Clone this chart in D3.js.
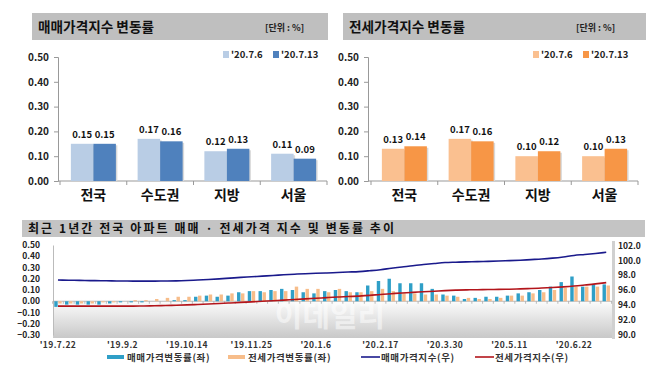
<!DOCTYPE html>
<html><head><meta charset="utf-8">
<script src="https://cdn.jsdelivr.net/npm/d3@7"></script>
<style>
html,body{margin:0;padding:0;background:#fff;}
svg{display:block;font-family:"Noto Sans CJK KR","Noto Sans",sans-serif;font-weight:bold;}
</style></head>
<body><svg id="c" width="658" height="366"></svg>
<script>
// ---------- data ----------
const cats = ['전국','수도권','지방','서울'];
const seriesLabels = ["'20.7.6","'20.7.13"];
const saleJul6  = [0.15,0.17,0.12,0.11];
const saleJul13 = [0.15,0.16,0.13,0.09];
const jeonseJul6  = [0.13,0.17,0.10,0.10];
const jeonseJul13 = [0.14,0.16,0.12,0.13];
const topTicks = [0,0.1,0.2,0.3,0.4,0.5];

const weekDates = ['19.7.22','19.7.29','19.8.5','19.8.12','19.8.19','19.8.26','19.9.2','19.9.9','19.9.16','19.9.23','19.9.30','19.10.7','19.10.14','19.10.21','19.10.28','19.11.4','19.11.11','19.11.18','19.11.25','19.12.2','19.12.9','19.12.16','19.12.23','19.12.30','20.1.6','20.1.13','20.1.20','20.1.27','20.2.3','20.2.10','20.2.17','20.2.24','20.3.2','20.3.9','20.3.16','20.3.23','20.3.30','20.4.6','20.4.13','20.4.20','20.4.27','20.5.4','20.5.11','20.5.18','20.5.25','20.6.1','20.6.8','20.6.15','20.6.22','20.6.29','20.7.6','20.7.13'];
const saleChange = [-0.05,-0.03,-0.03,-0.03,-0.03,-0.02,-0.01,-0.01,-0.01,0.00,0.00,0.01,0.01,
  0.04,0.05,0.04,0.05,0.08,0.09,0.09,0.10,0.11,0.10,0.08,0.07,0.09,
  0.10,0.09,0.08,0.14,0.18,0.20,0.16,0.16,0.16,0.11,0.06,0.05,0.02,
  0.03,0.04,0.04,0.05,0.07,0.08,0.10,0.13,0.17,0.22,0.13,0.15,0.15];
const jeonseChange = [-0.02,-0.02,-0.02,-0.02,-0.01,-0.01,0.00,0.01,0.01,0.02,0.03,0.04,0.04,
  0.05,0.06,0.06,0.07,0.07,0.09,0.08,0.09,0.09,0.13,0.11,0.11,0.08,
  0.11,0.08,0.08,0.09,0.11,0.09,0.07,0.07,0.06,0.06,0.05,0.04,0.03,
  0.02,0.02,0.03,0.05,0.05,0.07,0.08,0.10,0.12,0.13,0.13,0.13,0.14];
const saleIndex = [97.35,97.32,97.30,97.27,97.25,97.23,97.21,97.20,97.20,97.20,97.21,97.23,97.28,
  97.35,97.42,97.50,97.60,97.70,97.78,97.87,97.95,98.05,98.13,98.20,98.25,98.30,
  98.36,98.42,98.48,98.60,98.74,98.93,99.10,99.28,99.43,99.57,99.70,99.75,99.79,
  99.82,99.86,99.90,99.96,100.02,100.10,100.18,100.30,100.46,100.66,100.79,100.93,101.08];
const jeonseIndex = [93.83,93.83,93.83,93.82,93.82,93.82,93.82,93.83,93.85,93.88,93.91,93.95,93.99,
  94.05,94.12,94.18,94.25,94.33,94.40,94.48,94.56,94.63,94.72,94.80,94.88,94.97,
  95.05,95.12,95.18,95.27,95.40,95.50,95.60,95.68,95.76,95.84,95.92,95.98,96.02,
  96.04,96.06,96.08,96.11,96.15,96.20,96.26,96.33,96.42,96.53,96.67,96.82,97.00];
const leftTicks = [-0.3,-0.2,-0.1,0,0.1,0.2,0.3,0.4,0.5];
const rightTicks = [90,92,94,96,98,100,102];
const bottomLegend = ['매매가격변동률(좌)','전세가격변동률(좌)','매매가격지수(우)','전세가격지수(우)'];

const svg = d3.select('#c');
const defs = svg.append('defs');

// ---------- top panels ----------
function panel(opt){
  const g = svg.append('g');
  g.append('rect').attr('x',opt.barX0).attr('y',13).attr('width',opt.barX1-opt.barX0).attr('height',27).attr('fill','#bfbfbf');
  g.append('text').attr('x',opt.barX0+6).attr('y',32).attr('font-size',14).attr('fill','#111')
    .attr('textLength',116).attr('lengthAdjust','spacingAndGlyphs').text(opt.title);
  g.append('text').attr('x',opt.unitX).attr('y',31).attr('font-size',9).attr('fill','#222').text('[단위 : %]');

  const x0 = d3.scaleBand().domain(cats).range([opt.plotX0, opt.plotX0+267]);
  const x1 = d3.scaleBand().domain([0,1]).range([0,x0.bandwidth()]).paddingOuter(0.483);
  const y = d3.scaleLinear().domain([0,0.5]).range([181,57]);

  const ya = d3.axisLeft(y).tickValues(topTicks).tickFormat(d3.format('.2f')).tickSize(4);
  const yg = g.append('g').attr('transform',`translate(${opt.axisX},0)`).call(ya);
  yg.select('.domain').attr('stroke','#999');
  yg.selectAll('.tick line').attr('stroke','#999');
  yg.selectAll('.tick text').attr('x',-9).attr('font-size',10).attr('font-family','"Noto Sans CJK KR",sans-serif').attr('font-weight','bold').attr('fill','#222');
  g.append('line').attr('x1',opt.axisX).attr('x2',opt.plotX0+267).attr('y1',181).attr('y2',181).attr('stroke','#999');
  const bounds = cats.map(c=>x0(c)).concat([opt.plotX0+267]);
  g.selectAll('.bt').data(bounds).join('line').attr('x1',d=>d).attr('x2',d=>d).attr('y1',181).attr('y2',185).attr('stroke','#999');

  const sets = [opt.a, opt.b];
  const cols = [opt.c1, opt.c2];
  cats.forEach((c,i)=>{
    [0,1].forEach(s=>{
      const v = sets[s][i];
      const bx = x0(c)+x1(s);
      g.append('rect').attr('x',bx+1.5).attr('y',y(v)+1.5).attr('width',x1.bandwidth()).attr('height',y(0)-y(v)-1.5).attr('fill','#d9d9d9');
      g.append('rect').attr('x',bx).attr('y',y(v)).attr('width',x1.bandwidth()).attr('height',y(0)-y(v)).attr('fill',cols[s]);
      g.append('text').attr('x',bx+x1.bandwidth()/2).attr('y',y(v)-6).attr('text-anchor','middle')
        .attr('font-size',9.5).attr('fill','#111').text(d3.format('.2f')(v));
    });
    g.append('text').attr('x',x0(c)+x0.bandwidth()/2).attr('y',200).attr('text-anchor','middle')
      .attr('font-size',14).attr('fill','#111').text(c);
  });
  [0,1].forEach(s=>{
    const lx = opt.legX + s*50;
    g.append('rect').attr('x',lx).attr('y',51).attr('width',6).attr('height',7).attr('fill',cols[s]);
    g.append('text').attr('x',lx+8).attr('y',58).attr('font-size',9.5).attr('fill','#222').text(seriesLabels[s]);
  });
}
panel({title:'매매가격지수 변동률', barX0:32, barX1:328, unitX:265, plotX0:60, axisX:58, legX:223,
  a:saleJul6, b:saleJul13, c1:'#b9cde5', c2:'#4f81bd'});
panel({title:'전세가격지수 변동률', barX0:343, barX1:646, unitX:576, plotX0:371, axisX:368, legX:533,
  a:jeonseJul6, b:jeonseJul13, c1:'#fac090', c2:'#f79646'});

// ---------- bottom chart ----------
const b = svg.append('g');
b.append('rect').attr('x',22).attr('y',220).attr('width',623).attr('height',17).attr('fill','#c4c4c4');
b.append('text').attr('x',28).attr('y',233).attr('font-size',12).attr('fill','#111')
  .attr('textLength',366).attr('lengthAdjust','spacing')
  .text('최근 1년간 전국 아파트 매매 · 전세가격 지수 및 변동률 추이');

const grad = defs.append('linearGradient').attr('id','pg').attr('x1',0).attr('y1',0).attr('x2',0).attr('y2',1);
grad.append('stop').attr('offset','0').attr('stop-color','#ffffff');
grad.append('stop').attr('offset','0.6').attr('stop-color','#ffffff');
grad.append('stop').attr('offset','1').attr('stop-color','#c8c8c8');
b.append('rect').attr('x',53).attr('y',241).attr('width',559).attr('height',97).attr('fill','url(#pg)');
b.append('rect').attr('x',612).attr('y',241).attr('width',3).attr('height',98).attr('fill','#d0d0d0');

b.append('text').attr('x',330).attr('y',326).attr('text-anchor','middle').attr('font-size',30)
  .attr('fill','#ffffff').attr('fill-opacity',0.5).text('이데일리');

const xb = d3.scaleBand().domain(d3.range(weekDates.length)).range([52.6,611.6]);
const yl = d3.scaleLinear().domain([-0.3,0.5]).range([335,245]);
const yr = d3.scaleLinear().domain([90,102]).range([334.5,245.5]);

const la = b.append('g').attr('transform','translate(53,0)')
  .call(d3.axisLeft(yl).tickValues(leftTicks).tickFormat(d3.format('.2f')).tickSize(0));
la.select('.domain').attr('stroke','#bbb');
la.selectAll('.tick text').attr('x',-13).attr('font-size',8.5).attr('font-family','"Noto Sans CJK KR",sans-serif').attr('font-weight','bold').attr('fill','#222');
const ra = b.append('g').attr('transform','translate(615,0)')
  .call(d3.axisRight(yr).tickValues(rightTicks).tickFormat(d3.format('.1f')).tickSize(0));
ra.select('.domain').remove();
ra.selectAll('.tick text').attr('x',3).attr('font-size',8.5).attr('font-family','"Noto Sans CJK KR",sans-serif').attr('font-weight','bold').attr('fill','#222');

b.append('line').attr('x1',53).attr('x2',612).attr('y1',yl(0)).attr('y2',yl(0)).attr('stroke','#aaa').attr('stroke-width',0.8);
b.selectAll('.zt').data(d3.range(weekDates.length+1)).join('line')
  .attr('x1',i=>52.6+i*xb.step()).attr('x2',i=>52.6+i*xb.step())
  .attr('y1',yl(0)).attr('y2',yl(0)+2.5).attr('stroke','#aaa').attr('stroke-width',0.8);

const bw = 3.4;
b.selectAll('.sb').data(saleChange).join('rect')
  .attr('x',(d,i)=>xb(i)+xb.bandwidth()/2-bw-0.3).attr('width',bw)
  .attr('y',d=>Math.min(yl(d),yl(0))).attr('height',d=>Math.abs(yl(d)-yl(0)))
  .attr('fill','#2f9fc7');
b.selectAll('.jb').data(jeonseChange).join('rect')
  .attr('x',(d,i)=>xb(i)+xb.bandwidth()/2+0.3).attr('width',bw)
  .attr('y',d=>Math.min(yl(d),yl(0))).attr('height',d=>Math.abs(yl(d)-yl(0)))
  .attr('fill','#f7bd8a');

const ln = arr => d3.line().x((d,i)=>xb(i)+xb.bandwidth()/2).y(d=>yr(d)).curve(d3.curveMonotoneX)(arr);
b.append('path').attr('d',ln(saleIndex)).attr('fill','none').attr('stroke','#1a1a8c').attr('stroke-width',1.6);
b.append('path').attr('d',ln(jeonseIndex)).attr('fill','none').attr('stroke','#b3151b').attr('stroke-width',1.6);

weekDates.forEach((d,i)=>{
  if(i%6===0){
    b.append('text').attr('x',xb(i)+xb.bandwidth()/2).attr('y',348).attr('text-anchor','middle')
      .attr('font-size',8.5).attr('fill','#333').attr('letter-spacing',0.4).text("'"+d);
  }
});

const legItems = [
  {x:107, type:'bar', color:'#2f9fc7'},
  {x:228, type:'bar', color:'#f7bd8a'},
  {x:361, type:'line', color:'#1a1a8c'},
  {x:475, type:'line', color:'#b3151b'}
];
legItems.forEach((l,i)=>{
  if(l.type==='bar') b.append('rect').attr('x',l.x).attr('y',355).attr('width',17).attr('height',4).attr('fill',l.color);
  else b.append('line').attr('x1',l.x).attr('x2',l.x+19).attr('y1',357).attr('y2',357).attr('stroke',l.color).attr('stroke-width',1.6);
  b.append('text').attr('x',l.x+20).attr('y',361).attr('font-size',9.5).attr('fill','#333').attr('letter-spacing',0.6).text(bottomLegend[i]);
});
</script></body></html>
